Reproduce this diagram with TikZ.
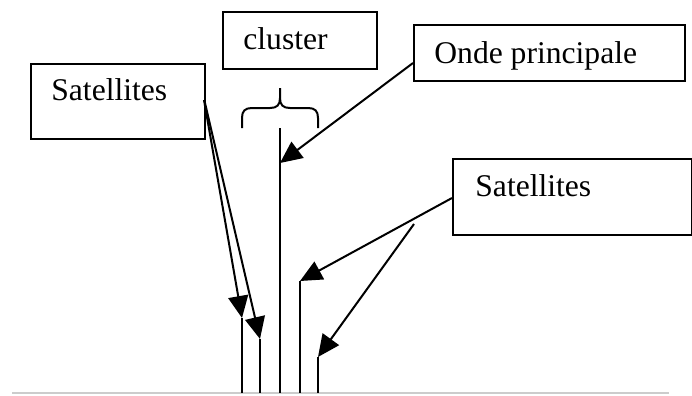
\documentclass[tikz,border=0pt]{standalone}
\usepackage{fontspec}
\setmainfont{Liberation Serif}
\usetikzlibrary{arrows.meta}
\begin{document}
\begin{tikzpicture}[x=0.5pt,y=-0.5pt,
  box/.style={draw,line width=1pt,inner sep=0pt,anchor=north west},
  lbl/.style={anchor=base west,inner sep=0pt,font=\fontsize{15.8}{19}\selectfont},
  wire/.style={line width=1pt},
  arr/.style={line width=1pt,-{Triangle[length=11pt,width=10pt]}}]
\useasboundingbox (0,0) rectangle (692,396);

% boxes
\node[box,minimum width=77pt,minimum height=28.5pt] (clusterbox) at (222,11) {};
\node[lbl] (clustertext) at (243,49) {cluster};
\node[box,minimum width=135.5pt,minimum height=28pt] (ondebox) at (413,24) {};
\node[lbl] (ondetext) at (434,63) {Onde principale};
\node[box,minimum width=87pt,minimum height=37.5pt] (lsat) at (30,63) {};
\node[lbl] (lsattext) at (51,100) {Satellites};
\node[box,minimum width=119.5pt,minimum height=38pt] (rsat) at (452,158) {};
\node[lbl] (rsattext) at (475,196) {Satellites};

% baseline
\coordinate (g1) at (12,393);
\coordinate (g2) at (669,393);
\draw[gray!40,line width=0.75pt] (g1) -- (g2);

% spectral lines
\coordinate (s1t) at (242,318); \coordinate (s1b) at (242,393);
\coordinate (s2t) at (260,339); \coordinate (s2b) at (260,393);
\coordinate (mt)  at (280,128); \coordinate (mb)  at (280,393);
\coordinate (s3t) at (300,281); \coordinate (s3b) at (300,393);
\coordinate (s4t) at (318,357); \coordinate (s4b) at (318,393);
\foreach \a/\b in {s1t/s1b,s2t/s2b,mt/mb,s3t/s3b,s4t/s4b}
  \draw[wire] (\a) -- (\b);

% brace
\draw[wire] (242,128) -- (242,118) .. controls (242,111) and (245,108) .. (252,108)
  -- (270,108) .. controls (277,108) and (280,105) .. (280,98) -- (280,88)
  -- (280,98) .. controls (280,105) and (283,108) .. (290,108)
  -- (308,108) .. controls (315,108) and (318,111) .. (318,118) -- (318,128);

% arrows
\coordinate (la1) at (204,100);
\coordinate (la2) at (205,103);
\coordinate (oa) at (413,63);
\coordinate (mh) at (280,163);
\coordinate (ra1) at (452,198);
\coordinate (ra2) at (414,224);
\draw[arr] (la1) -- (s1t);
\draw[arr] (la2) -- (s2t);
\draw[arr] (oa) -- (mh);
\draw[arr] (ra1) -- (s3t);
\draw[arr] (ra2) -- (s4t);
\end{tikzpicture}
\end{document}
